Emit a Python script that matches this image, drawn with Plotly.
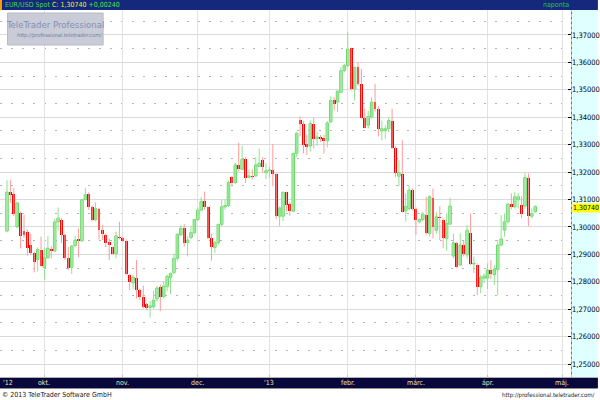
import plotly.graph_objects as go
import pandas as pd

# ---------------- data ----------------
start_date = "2012-09-14"
end_date = "2013-04-19"

open_ = [1.2985,1.3127,1.3120,1.3000,1.3050,1.2985,1.2982,1.2934,1.2906,1.2881,
         1.2916,1.2852,1.2887,1.2918,1.2912,1.3018,1.3026,1.2971,1.2885,1.2853,
         1.2932,1.2957,1.2949,1.3100,1.3120,1.3074,1.3026,1.3066,1.2987,1.2970,
         1.2946,1.2925,1.2903,1.2965,1.2958,1.2950,1.2824,1.2796,1.2812,1.2769,
         1.2745,1.2718,1.2706,1.2708,1.2737,1.2781,1.2745,1.2782,1.2815,1.2833,
         1.2885,1.2971,1.2995,1.2943,1.2961,1.2979,1.3027,1.3061,1.3093,1.3073,
         1.2961,1.2925,1.2942,1.3009,1.3073,1.3078,1.3181,1.3162,1.3226,1.3210,
         1.3246,1.3181,1.3186,1.3186,1.3220,1.3244,1.3198,1.3205,1.3208,1.3193,
         1.3039,1.3039,1.3126,1.3085,1.3057,1.3268,1.3389,1.3377,1.3302,1.3295,
         1.3377,1.3322,1.3328,1.3326,1.3314,1.3383,1.3461,1.3455,1.3491,1.3570,
         1.3588,1.3652,1.3503,1.3582,1.3521,1.3398,1.3371,1.3401,1.3455,1.3431,
         1.3350,1.3352,1.3358,1.3388,1.3289,1.3185,1.3192,1.3058,1.3067,1.3134,
         1.3067,1.3019,1.3027,1.3043,1.2976,1.3104,1.2988,1.3037,1.3027,1.2958,
         1.3010,1.2894,1.2942,1.2861,1.2934,1.2898,1.2976,1.2865,1.2861,1.2782,
         1.2813,1.2813,1.2843,1.2825,1.2845,1.2934,1.2988,1.3019,1.3083,1.3073,
         1.3100,1.3079,1.3076,1.3180,1.3039,1.3055]
high = [1.3170,1.3172,1.3141,1.3092,1.3056,1.3044,1.2990,1.2974,1.2910,1.2925,
        1.2965,1.2924,1.2967,1.2930,1.3029,1.3071,1.3032,1.2975,1.2927,1.2934,
        1.2967,1.2995,1.3101,1.3141,1.3127,1.3078,1.3090,1.3070,1.3007,1.2976,
        1.2958,1.2928,1.2983,1.3019,1.2965,1.2955,1.2830,1.2824,1.2879,1.2775,
        1.2786,1.2722,1.2730,1.2767,1.2784,1.2790,1.2802,1.2827,1.2834,1.2903,
        1.2977,1.3007,1.3010,1.2965,1.3003,1.3029,1.3070,1.3109,1.3129,1.3075,
        1.2975,1.2950,1.3012,1.3099,1.3099,1.3169,1.3186,1.3234,1.3307,1.3295,
        1.3254,1.3210,1.3210,1.3254,1.3286,1.3254,1.3232,1.3220,1.3302,1.3195,
        1.3075,1.3129,1.3129,1.3090,1.3271,1.3347,1.3403,1.3386,1.3335,1.3389,
        1.3398,1.3347,1.3335,1.3335,1.3386,1.3476,1.3473,1.3497,1.3582,1.3594,
        1.3711,1.3654,1.3584,1.3600,1.3576,1.3431,1.3423,1.3473,1.3522,1.3440,
        1.3388,1.3370,1.3398,1.3431,1.3295,1.3243,1.3316,1.3122,1.3148,1.3140,
        1.3071,1.3031,1.3055,1.3110,1.3116,1.3140,1.3055,1.3076,1.3031,1.3049,
        1.3107,1.2976,1.2946,1.2976,1.2952,1.3007,1.3049,1.2892,1.2867,1.2825,
        1.2831,1.2867,1.2879,1.2861,1.2952,1.3043,1.3049,1.3088,1.3122,1.3128,
        1.3124,1.3112,1.3198,1.3195,1.3067,1.3079]
low = [1.2980,1.3087,1.3040,1.2995,1.2922,1.2960,1.2895,1.2898,1.2834,1.2838,
       1.2855,1.2808,1.2884,1.2885,1.2910,1.2987,1.2941,1.2879,1.2843,1.2828,
       1.2926,1.2890,1.2946,1.3097,1.3062,1.3020,1.3020,1.2953,1.2952,1.2926,
       1.2879,1.2899,1.2885,1.2955,1.2945,1.2824,1.2769,1.2772,1.2739,1.2733,
       1.2702,1.2696,1.2669,1.2702,1.2728,1.2693,1.2740,1.2765,1.2755,1.2830,
       1.2879,1.2967,1.2928,1.2892,1.2955,1.2973,1.3021,1.3057,1.3063,1.2955,
       1.2877,1.2905,1.2935,1.3003,1.3063,1.3073,1.3148,1.3157,1.3202,1.3208,
       1.3160,1.3178,1.3174,1.3184,1.3218,1.3198,1.3174,1.3178,1.3148,1.3029,
       1.3003,1.3021,1.3057,1.3041,1.3053,1.3254,1.3330,1.3268,1.3262,1.3274,
       1.3286,1.3295,1.3310,1.3268,1.3290,1.3379,1.3425,1.3419,1.3488,1.3564,
       1.3584,1.3497,1.3461,1.3515,1.3395,1.3359,1.3359,1.3395,1.3420,1.3330,
       1.3316,1.3322,1.3346,1.3285,1.3182,1.3148,1.3052,1.3019,1.3060,1.3060,
       1.2970,1.3013,1.3020,1.2970,1.2964,1.2958,1.2976,1.2952,1.2922,1.2913,
       1.3007,1.2885,1.2849,1.2858,1.2892,1.2885,1.2861,1.2831,1.2752,1.2758,
       1.2795,1.2773,1.2809,1.2788,1.2752,1.2928,1.2964,1.3013,1.3064,1.3067,
       1.3067,1.3031,1.3067,1.3003,1.3031,1.3052]
close = [1.3127,1.3116,1.3048,1.3087,1.2967,1.2972,1.2922,1.2904,1.2873,1.2918,
         1.2857,1.2887,1.2922,1.2912,1.3018,1.3032,1.2971,1.2885,1.2849,1.2930,
         1.2952,1.2949,1.3099,1.3117,1.3074,1.3026,1.3066,1.2987,1.2974,1.2943,
         1.2934,1.2903,1.2967,1.2958,1.2949,1.2830,1.2800,1.2816,1.2769,1.2745,
         1.2708,1.2706,1.2712,1.2733,1.2777,1.2745,1.2784,1.2819,1.2830,1.2885,
         1.2973,1.2995,1.2943,1.2952,1.2979,1.3027,1.3061,1.3093,1.3073,1.2961,
         1.2925,1.2942,1.3009,1.3073,1.3078,1.3162,1.3160,1.3226,1.3210,1.3246,
         1.3178,1.3186,1.3181,1.3226,1.3232,1.3220,1.3205,1.3208,1.3193,1.3039,
         1.3069,1.3126,1.3081,1.3057,1.3268,1.3341,1.3377,1.3298,1.3292,1.3377,
         1.3322,1.3328,1.3319,1.3314,1.3379,1.3461,1.3449,1.3495,1.3570,1.3588,
         1.3648,1.3503,1.3582,1.3521,1.3398,1.3362,1.3403,1.3455,1.3431,1.3358,
         1.3358,1.3358,1.3388,1.3289,1.3195,1.3198,1.3055,1.3075,1.3134,1.3067,
         1.3025,1.3027,1.3047,1.2976,1.3110,1.3001,1.3037,1.3031,1.2958,1.3013,
         1.3076,1.2942,1.2855,1.2934,1.2901,1.2988,1.2865,1.2867,1.2782,1.2816,
         1.2821,1.2843,1.2828,1.2845,1.2934,1.2956,1.3019,1.3083,1.3071,1.3110,
         1.3110,1.3047,1.3180,1.3039,1.3049,1.3074]

month_labels = ["okt.", "nov.", "dec.", "'13", "febr.", "márc.", "ápr.", "máj."]
month_starts = ["2012-10-01", "2012-11-01", "2012-12-01", "2013-01-01",
                "2013-02-01", "2013-03-01", "2013-04-01", "2013-05-01"]
first_label = "'12"
y_ticks = [1.25, 1.26, 1.27, 1.28, 1.29, 1.30, 1.31, 1.32, 1.33, 1.34, 1.35, 1.36, 1.37]

symbol = "EUR/USD Spot"
last_close_txt = "1,30740"
change_txt = "+0,00240"
period_txt = "naponta"
logo_title = "TeleTrader Professional"
logo_url = "http://professional.teletrader.com/"
footer_left = "© 2013 TeleTrader Software GmbH"
footer_right = "http://professional.teletrader.com/"

# ---------------- layout geometry ----------------
W, H = 600, 400
ML, MR, MT, MB = 0, 27, 10, 27
PW, PH = W - ML - MR, H - MT - MB
def px(x):
    return (x - ML) / PW
def py(y):
    return (H - MB - y) / PH

NARROW = "Liberation Sans Narrow, DejaVu Sans Condensed, Arial Narrow, sans-serif"

days = pd.bdate_range(start_date, end_date)
idx = list(range(len(days)))
all_days = pd.bdate_range(start_date, "2013-05-31")
month_pos = [int((all_days < pd.Timestamp(m)).sum()) for m in month_starts]

up_x, up_y, dn_x, dn_y = [], [], [], []
bu_x, bu_base, bu_h, bd_x, bd_base, bd_h = [], [], [], [], [], []
MINH = 0.0003
for i, o, hi, lo, c in zip(idx, open_, high, low, close):
    if c >= o:
        up_x += [i, i, None]; up_y += [lo, hi, None]
        bu_x.append(i); bu_base.append(min(o, c)); bu_h.append(max(abs(c - o), MINH))
    else:
        dn_x += [i, i, None]; dn_y += [lo, hi, None]
        bd_x.append(i); bd_base.append(min(o, c)); bd_h.append(max(abs(c - o), MINH))

fig = go.Figure()
fig.add_trace(go.Scatter(x=up_x, y=up_y, mode="lines", line=dict(color="#8fe38f", width=1),
                         hoverinfo="skip", showlegend=False))
fig.add_trace(go.Scatter(x=dn_x, y=dn_y, mode="lines", line=dict(color="#ff9c9c", width=1),
                         hoverinfo="skip", showlegend=False))
fig.add_trace(go.Bar(x=bu_x, y=bu_h, base=bu_base, width=0.75,
                     marker=dict(color="#cdf5cd", line=dict(color="#6ad86a", width=1)),
                     showlegend=False))
fig.add_trace(go.Bar(x=bd_x, y=bd_h, base=bd_base, width=0.85,
                     marker=dict(color="#ff0000", line=dict(width=0)),
                     showlegend=False))

xr = [(-7) / 3.42, (PW - 7) / 3.42]
yr = [1.25 - ((H - MB) - 364) / 2742, 1.25 + (364 - MT) / 2742]

fig.update_layout(
    width=W, height=H, autosize=False,
    margin=dict(l=ML, r=MR, t=MT, b=MB, pad=0),
    paper_bgcolor="white", plot_bgcolor="white",
    barmode="overlay", bargap=0, separators=",.",
    showlegend=False,
    xaxis=dict(range=xr, tickvals=month_pos, showticklabels=False, showgrid=True,
               gridcolor="#e2e2e2", gridwidth=1, zeroline=False, showline=False,
               ticks="outside", ticklen=4, tickcolor="#c8c8c8", fixedrange=True),
    yaxis=dict(range=yr, side="right", tickvals=y_ticks, tickformat=".5f",
               ticks="inside", ticklen=3, tickcolor="#000000", tickwidth=1,
               tickfont=dict(family=NARROW, size=7.5, color="#000000"),
               showgrid=True, gridcolor="#dadada", gridwidth=1, zeroline=False,
               showline=False, fixedrange=True,
               minor=dict(dtick=0.005, tick0=1.25, showgrid=True, gridcolor="#b4b4b4",
                          griddash="2px,9px", gridwidth=1, ticks="")),
)

shapes = []
shapes.append(dict(type="rect", xref="paper", yref="paper", x0=px(PW), x1=px(W),
                   y0=py(377), y1=py(MT), fillcolor="#e0ffff", line=dict(width=0), layer="below"))
shapes.append(dict(type="line", xref="paper", yref="paper", x0=px(PW + 0.5), x1=px(PW + 0.5),
                   y0=py(377), y1=py(MT), line=dict(color="#707070", width=1)))
shapes.append(dict(type="line", xref="paper", yref="paper", x0=px(PW + 0.5), x1=px(PW + 0.5),
                   y0=py(377), y1=py(MT), line=dict(color="#f0d000", width=1, dash="3px,2px")))
shapes.append(dict(type="rect", xref="paper", yref="paper", x0=px(0), x1=px(W),
                   y0=py(MT), y1=py(0), fillcolor="#14287c", line=dict(width=0), layer="above"))
shapes.append(dict(type="rect", xref="paper", yref="paper", x0=px(0), x1=px(2),
                   y0=py(MT), y1=py(0), fillcolor="#ff9900", line=dict(width=0), layer="above"))
shapes.append(dict(type="line", xref="paper", yref="paper", x0=px(0), x1=px(W),
                   y0=py(377.5), y1=py(377.5), line=dict(color="#b0b0b0", width=1)))
shapes.append(dict(type="rect", xref="paper", yref="paper", x0=px(0), x1=px(W),
                   y0=py(388), y1=py(378), fillcolor="#08083c", line=dict(width=0), layer="above"))
shapes.append(dict(type="line", xref="paper", yref="paper", x0=px(0), x1=px(W),
                   y0=py(388.5), y1=py(388.5), line=dict(color="#909090", width=1)))
shapes.append(dict(type="rect", xref="paper", yref="paper", x0=px(7.5), x1=px(103.5),
                   y0=py(45), y1=py(13), fillcolor="#c9cbd6", line=dict(color="#b8bac6", width=1),
                   layer="above"))
fig.update_layout(shapes=shapes)

ann = []
ann.append(dict(xref="paper", yref="paper", x=px(3), y=py(5), xanchor="left", yanchor="middle",
                showarrow=False, font=dict(family=NARROW, size=7, color="#30d030"),
                text=(f"<span style='color:#48d848'>{symbol}</span> "
                      f"<span style='color:#f0f040'>C: {last_close_txt}</span> "
                      f"<span style='color:#48e848'>{change_txt}</span>")))
ann.append(dict(xref="paper", yref="paper", x=px(573), y=py(5), xanchor="right", yanchor="middle",
                showarrow=False, text=period_txt, font=dict(family=NARROW, size=7, color="#20d020")))
ann.append(dict(xref="paper", yref="paper", x=px(55.5), y=py(25), xanchor="center", yanchor="middle",
                showarrow=False, text=logo_title,
                font=dict(family=NARROW, size=9.5, color="#7f90b6")))
ann.append(dict(xref="paper", yref="paper", x=px(60), y=py(35.5), xanchor="center", yanchor="middle",
                showarrow=False, text=f"<i>{logo_url}</i>",
                font=dict(family=NARROW, size=5.5, color="#6f80a8")))
for lab, pos in zip(month_labels, month_pos):
    ann.append(dict(xref="x", yref="paper", x=pos, y=py(383), xanchor="center", yanchor="middle",
                    showarrow=False, text=lab, font=dict(family=NARROW, size=7, color="#e4e4b4")))
ann.append(dict(xref="paper", yref="paper", x=px(1), y=py(383), xanchor="left", yanchor="middle",
                showarrow=False, text=first_label, font=dict(family=NARROW, size=7, color="#e4e4b4")))
ann.append(dict(xref="paper", yref="paper", x=px(0), y=py(394.5), xanchor="left", yanchor="middle",
                showarrow=False, text=footer_left, font=dict(family=NARROW, size=7, color="#202020")))
ann.append(dict(xref="paper", yref="paper", x=px(599), y=py(394.5), xanchor="right", yanchor="middle",
                showarrow=False, text=footer_right, font=dict(family=NARROW, size=6, color="#202020")))
ann.append(dict(xref="paper", yref="y", x=px(PW + 1.5), y=close[-1], xanchor="left", yanchor="middle",
                yshift=-1.5, showarrow=False, text=last_close_txt, bgcolor="#ffff00", borderpad=0,
                font=dict(family=NARROW, size=7, color="#000000")))
fig.update_layout(annotations=ann)

fig.write_html("out.html", config={"displayModeBar": False, "staticPlot": True},
               post_script="document.body.style.margin='0px';document.body.style.overflow='hidden';")
